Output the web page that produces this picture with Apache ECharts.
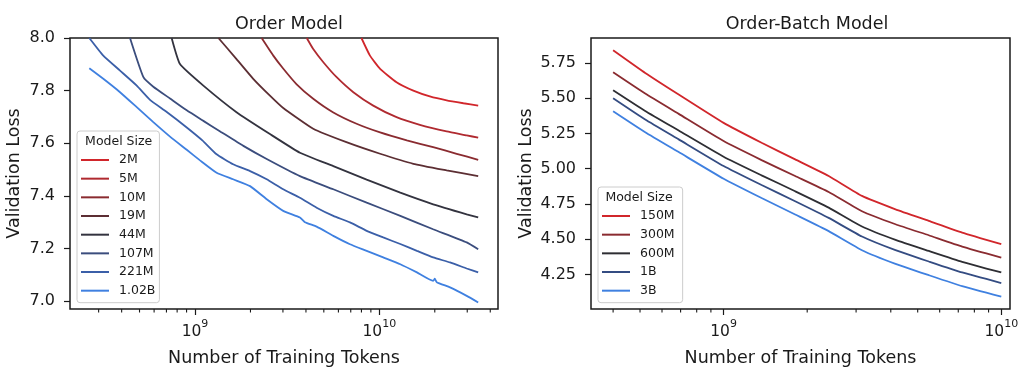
<!DOCTYPE html>
<html><head><meta charset="utf-8">
<script src="https://cdn.jsdelivr.net/npm/echarts@6/dist/echarts.min.js"></script>
<style>html,body{margin:0;padding:0;background:#fff}#c{width:1024px;height:372px}</style>
</head><body><div id="c"></div>
<script>
// ---------------- Order Model (left) ----------------
const order2M_tokens = [8.0e9, 8.9e9, 1.01e10, 1.24e10, 1.53e10, 1.88e10, 2.32e10, 2.86e10, 3.44e10];
const order2M_loss   = [8.0, 7.933, 7.883, 7.832, 7.800, 7.778, 7.763, 7.752, 7.743];
const order5M_tokens = [4.04e9, 4.38e9, 4.97e9, 5.87e9, 7.23e9, 9.27e9, 1.24e10, 1.66e10, 2.32e10, 2.98e10, 3.44e10];
const order5M_loss   = [8.0, 7.958, 7.908, 7.851, 7.794, 7.743, 7.699, 7.670, 7.645, 7.630, 7.621];
const order10M_tokens = [2.30e9, 2.66e9, 3.0e9, 3.55e9, 4.38e9, 5.63e9, 7.53e9, 1.01e10, 1.41e10, 1.96e10, 2.63e10, 3.44e10];
const order10M_loss   = [8.0, 7.933, 7.885, 7.825, 7.769, 7.717, 7.674, 7.641, 7.611, 7.585, 7.560, 7.537];
const order19M_tokens = [1.34e9, 1.68e9, 2.07e9, 2.55e9, 3.0e9, 4.38e9, 6.63e9, 1.01e10, 1.53e10, 2.32e10, 3.44e10];
const order19M_loss   = [8.0, 7.920, 7.845, 7.781, 7.735, 7.655, 7.604, 7.560, 7.522, 7.497, 7.475];
const order44M_tokens = [7.47e8, 8.29e8, 1.11e9, 1.68e9, 2.55e9, 3.71e9, 5.63e9, 8.54e9, 1.30e10, 1.96e10, 2.98e10, 3.44e10];
const order44M_loss   = [8.0, 7.901, 7.819, 7.718, 7.635, 7.564, 7.513, 7.462, 7.412, 7.368, 7.330, 7.318];
const order107M_tokens = [4.44e8, 5.25e8, 5.94e8, 7.32e8, 9.02e8, 1.11e9, 1.37e9, 1.83e9, 2.45e9, 3.71e9, 5.63e9, 8.54e9, 1.30e10, 1.96e10, 2.98e10, 3.44e10];
const order107M_loss   = [8.0, 7.851, 7.815, 7.770, 7.725, 7.685, 7.645, 7.590, 7.540, 7.475, 7.425, 7.374, 7.324, 7.273, 7.223, 7.197];
const order221M_tokens = [2.67e8, 3.18e8, 3.92e8, 4.83e8, 5.7e8, 7.0e8, 9.02e8, 1.1e9, 1.31e9, 1.61e9, 1.99e9, 2.45e9, 3.01e9, 3.71e9, 4.57e9, 5.63e9, 6.93e9, 8.54e9, 1.05e10, 1.30e10, 1.60e10, 1.96e10, 2.42e10, 2.98e10, 3.44e10];
const order221M_loss   = [8.0, 7.933, 7.876, 7.819, 7.765, 7.720, 7.660, 7.610, 7.558, 7.520, 7.494, 7.463, 7.425, 7.393, 7.355, 7.324, 7.299, 7.267, 7.242, 7.217, 7.191, 7.166, 7.147, 7.124, 7.109];
const order1B_tokens = [2.67e8, 3.18e8, 3.92e8, 4.83e8, 5.94e8, 7.32e8, 9.02e8, 1.065e9, 1.31e9, 1.61e9, 1.99e9, 2.45e9, 3.01e9, 3.71e9, 3.95e9, 4.57e9, 5.63e9, 6.93e9, 8.54e9, 1.05e10, 1.30e10, 1.60e10, 1.96e10, 2.0e10, 2.05e10, 2.42e10, 2.98e10, 3.44e10];
const order1B_loss   = [7.885, 7.845, 7.794, 7.737, 7.680, 7.625, 7.575, 7.535, 7.488, 7.463, 7.437, 7.387, 7.343, 7.318, 7.300, 7.283, 7.248, 7.216, 7.191, 7.166, 7.140, 7.109, 7.077, 7.085, 7.072, 7.052, 7.020, 6.995];
const orderNames  = ['2M', '5M', '10M', '19M', '44M', '107M', '221M', '1.02B'];
const orderColors = ['#d1262b', '#b02a30', '#8a2b30', '#5c2e33', '#33333f', '#3b4d7d', '#3b5fa8', '#3f80e0'];
const orderYTicks = [7.0, 7.2, 7.4, 7.6, 7.8, 8.0];
const orderXMajor = [1e9, 1e10];
const orderXMinor = [3e8, 4e8, 5e8, 6e8, 7e8, 8e8, 9e8, 2e9, 3e9, 4e9, 5e9, 6e9, 7e9, 8e9, 9e9, 2e10, 3e10, 4e10];

// ---------------- Order-Batch Model (right) ----------------
const batchTokens = [4e8, 5.22e8, 6.89e8, 1e9, 1.37e9, 1.81e9, 2.39e9, 3.15e9, 4.16e9, 5.48e9, 7.23e9, 1e10];
const batch150M = [5.840, 5.679, 5.526, 5.325, 5.184, 5.066, 4.948, 4.807, 4.712, 4.630, 4.547, 4.465];
const batch300M = [5.684, 5.533, 5.389, 5.196, 5.061, 4.948, 4.835, 4.698, 4.606, 4.528, 4.448, 4.370];
const batch600M = [5.557, 5.410, 5.271, 5.085, 4.953, 4.840, 4.724, 4.590, 4.495, 4.417, 4.340, 4.264];
const batch1B   = [5.500, 5.349, 5.208, 5.019, 4.884, 4.769, 4.651, 4.519, 4.422, 4.342, 4.264, 4.189];
const batch3B   = [5.408, 5.259, 5.118, 4.929, 4.792, 4.675, 4.557, 4.422, 4.325, 4.245, 4.167, 4.092];
const batchNames  = ['150M', '300M', '600M', '1B', '3B'];
const batchColors = ['#d1262b', '#8a2b30', '#2e2e33', '#344c82', '#3f80e0'];
const batchYTicks = [4.25, 4.50, 4.75, 5.00, 5.25, 5.50, 5.75];
const batchXMajor = [1e9, 1e10];
const batchXMinor = [4e8, 5e8, 6e8, 7e8, 8e8, 9e8, 2e9, 3e9, 4e9, 5e9, 6e9, 7e9, 8e9, 9e9];

const FONT = 'DejaVu Sans';
const TXT = '#1a1a1a';
const zip = (xs, ys) => xs.map((x, i) => [x, ys[i]]);

const orderData = [
  zip(order2M_tokens, order2M_loss), zip(order5M_tokens, order5M_loss),
  zip(order10M_tokens, order10M_loss), zip(order19M_tokens, order19M_loss),
  zip(order44M_tokens, order44M_loss), zip(order107M_tokens, order107M_loss),
  zip(order221M_tokens, order221M_loss), zip(order1B_tokens, order1B_loss)
];
const batchData = [batch150M, batch300M, batch600M, batch1B, batch3B].map(ys => zip(batchTokens, ys));

const ranges = [
  {xmin: 2.098e8, xmax: 4.406e10, ymin: 6.97, ymax: 8.0},
  {xmin: 3.33e8, xmax: 1.075e10, ymin: 4.005, ymax: 5.927}
];

function supLabel(v) {
  const e = Math.round(Math.log10(v));
  return '{b|10}{s|' + e + '}';
}

function xAxisFor(idx, major) {
  const r = ranges[idx];
  return {
    type: 'log', logBase: 10, gridIndex: idx, min: r.xmin, max: r.xmax,
    name: 'Number of Training Tokens', nameLocation: 'middle', nameGap: 40,
    nameTextStyle: {fontFamily: FONT, fontSize: 17.5, color: TXT},
    axisLine: {show: false},
    splitLine: {show: false},
    axisTick: {show: true, length: 6, customValues: major, lineStyle: {color: TXT, width: 1.2}},
    axisLabel: {
      customValues: major, margin: 10, formatter: supLabel,
      rich: {
        b: {fontFamily: FONT, fontSize: 15.5, color: TXT, verticalAlign: 'bottom', lineHeight: 21},
        s: {fontFamily: FONT, fontSize: 11, color: TXT, verticalAlign: 'top', lineHeight: 12}
      }
    }
  };
}

function yAxisFor(idx, ticks, digits, gap) {
  const r = ranges[idx];
  return {
    type: 'value', gridIndex: idx, min: r.ymin, max: r.ymax,
    name: 'Validation Loss', nameLocation: 'middle', nameGap: gap,
    nameTextStyle: {fontFamily: FONT, fontSize: 17.5, color: TXT},
    axisLine: {show: false}, splitLine: {show: false},
    axisTick: {show: true, length: 6, customValues: ticks, lineStyle: {color: TXT, width: 1.2}},
    axisLabel: {customValues: ticks, margin: 15, fontFamily: FONT, fontSize: 16, color: TXT,
      formatter: v => v.toFixed(digits)}
  };
}

function minorTickSeries(idx, vals) {
  const r = ranges[idx];
  return {
    type: 'custom', xAxisIndex: idx, yAxisIndex: idx, silent: true, clip: false, z: 1,
    data: vals.map(v => [v, r.ymin]),
    renderItem: (params, api) => {
      const p = api.coord([api.value(0), api.value(1)]);
      return {type: 'line', shape: {x1: p[0], y1: p[1], x2: p[0], y2: p[1] + 3.5},
        style: {stroke: TXT, lineWidth: 1.1}};
    }
  };
}

const series = [];
orderNames.forEach((n, i) => series.push({
  name: n, type: 'line', xAxisIndex: 0, yAxisIndex: 0, data: orderData[i],
  showSymbol: false, symbol: 'none', clip: true, smooth: 0.15,
  lineStyle: {color: orderColors[i], width: 1.8}, itemStyle: {color: orderColors[i]}
}));
batchNames.forEach((n, i) => series.push({
  name: n, type: 'line', xAxisIndex: 1, yAxisIndex: 1, data: batchData[i],
  showSymbol: false, symbol: 'none', clip: true, smooth: 0.15,
  lineStyle: {color: batchColors[i], width: 1.8}, itemStyle: {color: batchColors[i]}
}));
series.push(minorTickSeries(0, orderXMinor));
series.push(minorTickSeries(1, batchXMinor));

const legendCommon = {
  orient: 'vertical', icon: 'rect', itemWidth: 28, itemHeight: 2, itemGap: 4.67,
  backgroundColor: 'rgba(255,255,255,0.85)', borderColor: '#cccccc', borderWidth: 1, borderRadius: 3,
  textStyle: {fontFamily: FONT, fontSize: 12.5, color: TXT, lineHeight: 14, padding: [0, 0, 0, 5]},
  z: 10
};

const option = {
  animation: false,
  backgroundColor: '#fff',
  title: [
    {text: 'Order Model', left: 284, top: 10, textAlign: 'center',
     textStyle: {fontFamily: FONT, fontSize: 17.5, fontWeight: 'normal', color: TXT}},
    {text: 'Order-Batch Model', left: 802, top: 10, textAlign: 'center',
     textStyle: {fontFamily: FONT, fontSize: 17.5, fontWeight: 'normal', color: TXT}}
  ],
  grid: [
    {left: 70, right: 526, top: 38, bottom: 62, show: true, borderColor: TXT, borderWidth: 1.5, backgroundColor: 'transparent'},
    {left: 591, right: 14, top: 38, bottom: 62, show: true, borderColor: TXT, borderWidth: 1.5, backgroundColor: 'transparent'}
  ],
  xAxis: [xAxisFor(0, orderXMajor), xAxisFor(1, batchXMajor)],
  yAxis: [yAxisFor(0, orderYTicks, 1, 47), yAxisFor(1, batchYTicks, 2, 56)],
  legend: [
    Object.assign({}, legendCommon, {data: orderNames, left: 77, top: 131, padding: [22, 4, 5, 4]}),
    Object.assign({}, legendCommon, {data: batchNames, left: 598, top: 187, padding: [22, 8, 5, 4]})
  ],
  graphic: [
    {type: 'text', z: 100, x: 118.7, y: 141.7, style: {text: 'Model Size', fontFamily: FONT, fontSize: 12.5, fill: TXT, align: 'center', verticalAlign: 'middle'}},
    {type: 'text', z: 100, x: 639, y: 197.7, style: {text: 'Model Size', fontFamily: FONT, fontSize: 12.5, fill: TXT, align: 'center', verticalAlign: 'middle'}}
  ],
  series: series
};

const chart = echarts.init(document.getElementById('c'), null, {renderer: 'canvas'});
chart.setOption(option);
</script>
</body></html>
